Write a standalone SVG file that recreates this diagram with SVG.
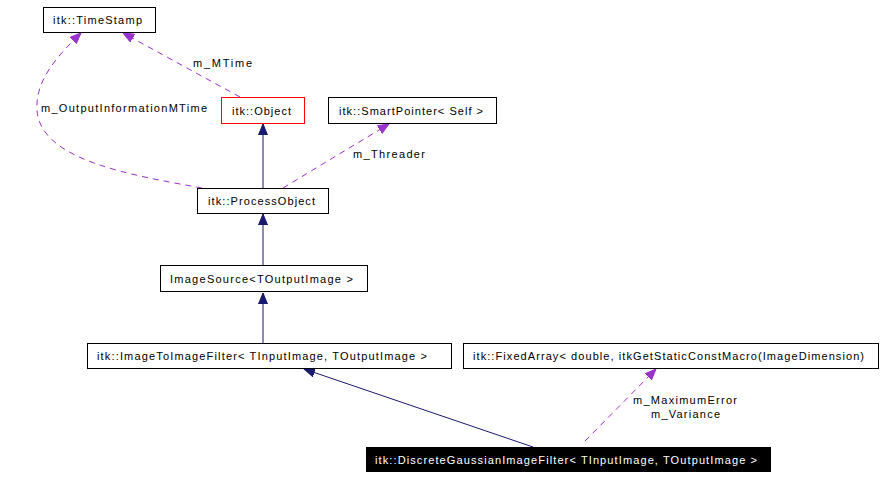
<svg xmlns="http://www.w3.org/2000/svg" width="884" height="477" viewBox="0 0 884 477">
<style>
text{font-family:"Liberation Sans",Arial,sans-serif;font-size:11px;fill:#000;text-anchor:start}
.box{fill:#fff;stroke:#000;stroke-width:1}
.red{fill:#fff;stroke:#ff0000;stroke-width:1}
.inh{fill:none;stroke:#191970;stroke-width:1}
.use{fill:none;stroke:#9a32cd;stroke-width:1;stroke-dasharray:6,5}
</style>
<defs>
<marker id="ah" markerUnits="userSpaceOnUse" markerWidth="12" markerHeight="10" refX="11" refY="5" orient="auto">
<path d="M0,0.5 L11,5 L0,9.5 z" fill="#191970" stroke="#191970" stroke-width="1"/>
</marker>
<marker id="ap" markerUnits="userSpaceOnUse" markerWidth="12" markerHeight="10" refX="11" refY="5" orient="auto">
<path d="M0,0.5 L11,5 L0,9.5 z" fill="#9a32cd" stroke="#9a32cd" stroke-width="1"/>
</marker>
</defs>
<rect width="884" height="477" fill="#fff"/>
<g id="edges">
<path class="inh" d="M263,188 L263,124" marker-end="url(#ah)"/>
<path class="inh" d="M263,265 L263,214" marker-end="url(#ah)"/>
<path class="inh" d="M263,343 L263,293" marker-end="url(#ah)"/>
<path class="inh" d="M533,447 L304,369" marker-end="url(#ah)"/>
<path class="use" d="M240,97 L123,33" marker-end="url(#ap)"/>
<path class="use" d="M202,188 C130,175 40,160 37,110 C35,82 55,58 81,33" marker-end="url(#ap)"/>
<path class="use" d="M283,188 L389,124" marker-end="url(#ap)"/>
<path class="use" d="M585,441 L656,369" marker-end="url(#ap)"/>
<text x="193" y="67" textLength="59" lengthAdjust="spacing">m_MTime</text>
<text x="41" y="112" textLength="166" lengthAdjust="spacing">m_OutputInformationMTime</text>
<text x="353" y="158" textLength="72" lengthAdjust="spacing">m_Threader</text>
<text x="633" y="404" textLength="104" lengthAdjust="spacing">m_MaximumError</text>
<text x="651" y="418" textLength="69" lengthAdjust="spacing">m_Variance</text>
</g>
<g id="TimeStamp">
<rect class="box" x="43.5" y="7.5" width="112" height="25"/>
<text x="53" y="24" textLength="89" lengthAdjust="spacing">itk::TimeStamp</text>
</g>
<g id="Object">
<rect class="red" x="221.5" y="97.5" width="83" height="26"/>
<text x="232" y="115" textLength="59" lengthAdjust="spacing">itk::Object</text>
</g>
<g id="SmartPointer">
<rect class="box" x="328.5" y="97.5" width="168" height="26"/>
<text x="339" y="115" textLength="144" lengthAdjust="spacing">itk::SmartPointer&lt; Self &gt;</text>
</g>
<g id="ProcessObject">
<rect class="box" x="197.5" y="188.5" width="131" height="25"/>
<text x="208" y="205" textLength="107" lengthAdjust="spacing">itk::ProcessObject</text>
</g>
<g id="ImageSource">
<rect class="box" x="160.5" y="265.5" width="207" height="26"/>
<text x="170" y="283" textLength="183" lengthAdjust="spacing">ImageSource&lt;TOutputImage &gt;</text>
</g>
<g id="ImageToImageFilter">
<rect class="box" x="87.5" y="343.5" width="364" height="25"/>
<text x="97" y="360" textLength="330" lengthAdjust="spacing">itk::ImageToImageFilter&lt; TInputImage, TOutputImage &gt;</text>
</g>
<g id="FixedArray">
<rect class="box" x="463.5" y="343.5" width="415" height="25"/>
<text x="473" y="360" textLength="391" lengthAdjust="spacing">itk::FixedArray&lt; double, itkGetStaticConstMacro(ImageDimension)</text>
</g>
<g id="DiscreteGaussian">
<rect x="366" y="447" width="405" height="25" fill="#000"/>
<text x="375" y="464" textLength="382" lengthAdjust="spacing" style="fill:#fff">itk::DiscreteGaussianImageFilter&lt; TInputImage, TOutputImage &gt;</text>
</g>
</svg>
